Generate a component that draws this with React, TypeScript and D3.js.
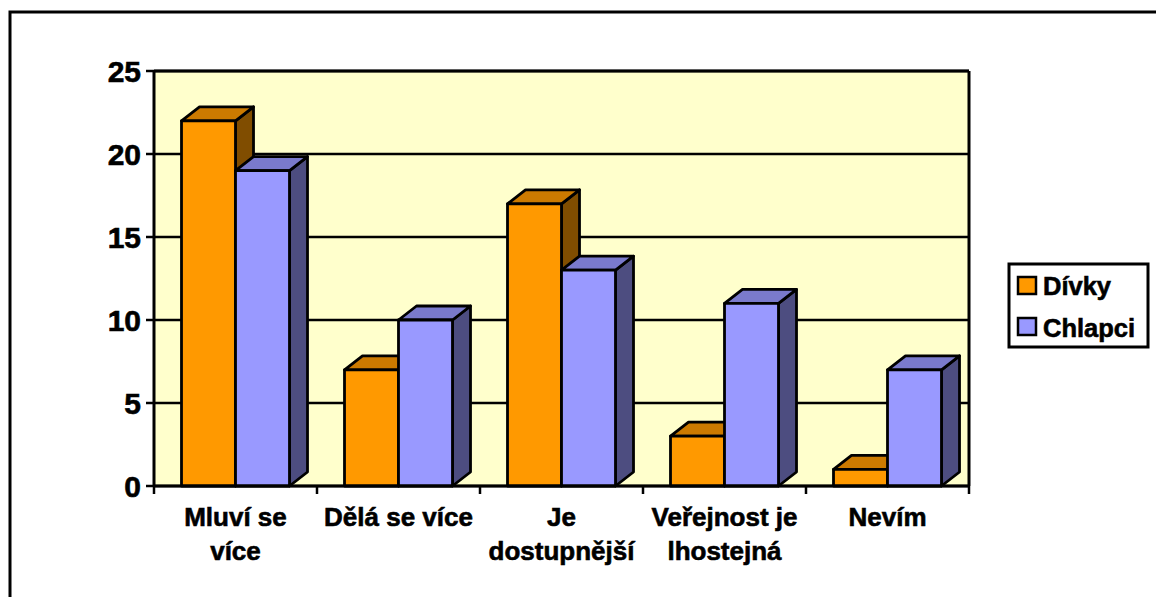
import React from "react";
import * as d3 from "d3";

const categories: string[][] = [
  ["Mluví se", "více"],
  ["Dělá se více"],
  ["Je", "dostupnější"],
  ["Veřejnost je", "lhostejná"],
  ["Nevím"],
];
const seriesNames = ["Dívky", "Chlapci"];
const divky = [22, 7, 17, 3, 1];
const chlapci = [19, 10, 13, 11, 7];
const yTicks = [0, 5, 10, 15, 20, 25];

const palettes = [
  { front: "#FF9900", top: "#CC7A00", side: "#804D00" },
  { front: "#9999FF", top: "#7A7ACC", side: "#4D4D80" },
];

const FONT = "'Liberation Sans', Arial, sans-serif";

export default function App() {
  const W = 1156, H = 597;
  const left = 154, right = 969, top = 71, bottom = 486;
  const dx = 18, dy = 14;
  const x = d3.scaleBand<number>().domain(d3.range(categories.length)).range([left, right]).padding(0);
  const inner = d3.scaleBand<number>().domain([0, 1]).range([27.5, x.bandwidth() - 27.5]).padding(0);
  const y = d3.scaleLinear().domain([0, 25]).range([bottom, top]);
  const series = [divky, chlapci];

  const bars: React.ReactNode[] = [];
  categories.forEach((_, ci) => {
    series.forEach((vals, si) => {
      const v = vals[ci];
      const x0 = (x(ci) as number) + (inner(si) as number);
      const w = inner.bandwidth();
      const x1 = x0 + w;
      const yt = y(v);
      const yb = y(0);
      const p = palettes[si];
      bars.push(
        <g key={`${ci}-${si}`} stroke="#000" strokeWidth={2.8} strokeLinejoin="round">
          <polygon
            points={`${x1},${yt} ${x1 + dx},${yt - dy} ${x1 + dx},${yb - dy} ${x1},${yb}`}
            fill={p.side}
          />
          <polygon
            points={`${x0},${yt} ${x0 + dx},${yt - dy} ${x1 + dx},${yt - dy} ${x1},${yt}`}
            fill={p.top}
          />
          <rect x={x0} y={yt} width={w} height={yb - yt} fill={p.front} />
        </g>
      );
    });
  });

  const txt = { fontWeight: "bold" as const, fill: "#000", stroke: "#000", strokeWidth: 0.6 };

  return (
    <svg width={W} height={H} style={{ position: "absolute", left: 0, top: 0, background: "#fff" }} fontFamily={FONT}>
      <rect x={10} y={12} width={1200} height={700} fill="#fff" stroke="#000" strokeWidth={3} />
      {/* plot area */}
      <rect x={left} y={top} width={right - left} height={bottom - top} fill="#FFFFCC" />
      {yTicks.map((t) => (
        <line key={t} x1={left} x2={right} y1={y(t)} y2={y(t)} stroke="#000" strokeWidth={2.5} />
      ))}
      <line x1={right} x2={right} y1={top} y2={bottom} stroke="#000" strokeWidth={3} />
      <line x1={left} x2={right} y1={top} y2={top} stroke="#000" strokeWidth={3} />
      {bars}
      {/* axes */}
      <line x1={left} x2={left} y1={top} y2={bottom} stroke="#000" strokeWidth={3} />
      <line x1={left} x2={right} y1={bottom} y2={bottom} stroke="#000" strokeWidth={3} />
      {yTicks.map((t) => (
        <g key={`yt${t}`}>
          <line x1={left - 8} x2={left} y1={y(t)} y2={y(t)} stroke="#000" strokeWidth={2.5} />
          <text x={left - 13} y={y(t)} dy="0.36em" textAnchor="end" fontSize={30} {...txt}>
            {t}
          </text>
        </g>
      ))}
      {d3.range(categories.length + 1).map((i) => {
        const xx = left + i * x.step();
        return <line key={`xt${i}`} x1={xx} x2={xx} y1={bottom} y2={bottom + 8} stroke="#000" strokeWidth={2.5} />;
      })}
      {categories.map((lines, ci) => {
        const cx = (x(ci) as number) + x.bandwidth() / 2;
        return (
          <text key={`xl${ci}`} x={cx} textAnchor="middle" fontSize={26} {...txt}>
            {lines.map((l, li) => (
              <tspan key={li} x={cx} y={526 + li * 34}>
                {l}
              </tspan>
            ))}
          </text>
        );
      })}
      {/* legend */}
      <rect x={1009} y={264} width={139} height={83} fill="#fff" stroke="#000" strokeWidth={3} />
      {seriesNames.map((n, i) => (
        <g key={n}>
          <rect x={1018} y={277 + i * 41} width={18} height={17} fill={palettes[i].front} stroke="#000" strokeWidth={2.5} />
          <text x={1043} y={295 + i * 42} fontSize={25.5} {...txt}>
            {n}
          </text>
        </g>
      ))}
    </svg>
  );
}
